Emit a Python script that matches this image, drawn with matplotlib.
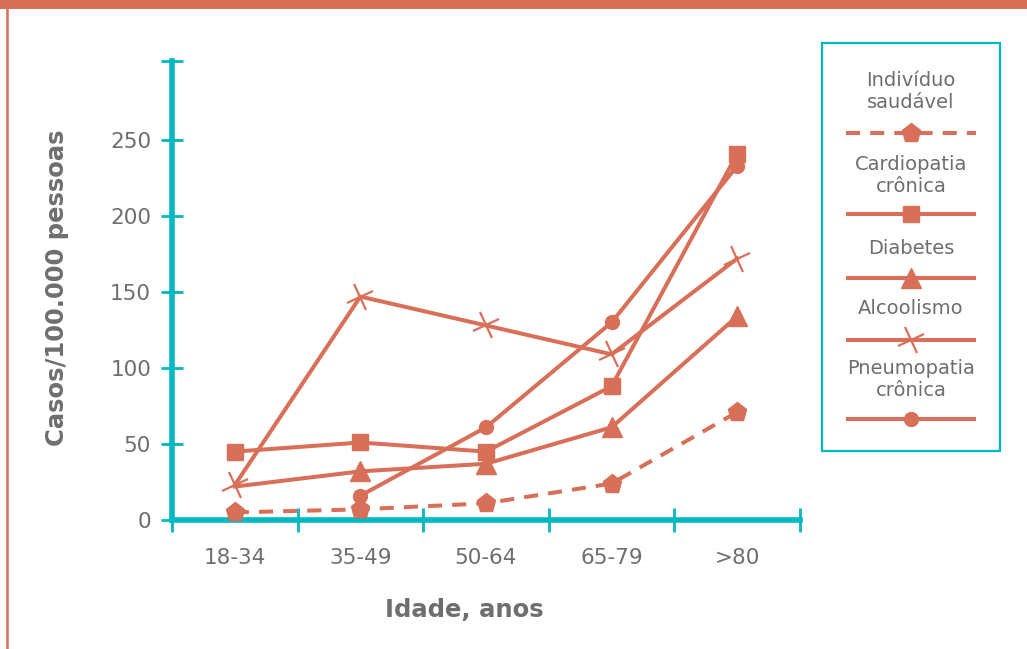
import numpy as np
import matplotlib
matplotlib.use("Agg")
import matplotlib.pyplot as plt
from matplotlib.markers import MarkerStyle
from matplotlib.transforms import Affine2D
from matplotlib.patches import Rectangle

# ---- data ----
categories = ["18-34", "35-49", "50-64", "65-79", ">80"]
saudavel = [5, 7, 11, 24, 71]
cardiopatia = [45, 51, 45, 88, 241]
diabetes = [22, 32, 37, 61, 134]
alcoolismo = [23, 147, 128, 109, 172]
pneumopatia = [np.nan, 16, 61, 130, 233]
yticks = [0, 50, 100, 150, 200, 250]
ytick_labels = ["0", "50", "100", "150", "200", "250"]
legend_labels = ["Indivíduo\nsaudável", "Cardiopatia\ncrônica", "Diabetes",
                 "Alcoolismo", "Pneumopatia\ncrônica"]

ORANGE = "#D86F58"
TEAL = "#00B8C2"
GRAY = "#6D6E70"

W, H = 1027, 649
fig = plt.figure(figsize=(W / 100, H / 100), dpi=100)
plt.rcParams['font.family'] = ['DejaVu Sans']

# overlay in pixel coords (frame + legend)
ov = fig.add_axes([0, 0, 1, 1], zorder=0)
ov.set_xlim(0, W)
ov.set_ylim(H, 0)
ov.axis("off")
ov.add_patch(Rectangle((0, 0), W, 8.5, color=ORANGE, lw=0))
ov.plot([7, 7], [8, H], color=ORANGE, lw=1.8, solid_capstyle="butt")

cross = MarkerStyle("+", transform=Affine2D().rotate_deg(25))

# main axes
x0, x1 = 172, 800
yb, yt = 520, 61
ax = fig.add_axes([x0 / W, (H - yb) / H, (x1 - x0) / W, (yb - yt) / H], zorder=2)
ax.set_facecolor("none")
xs = np.arange(len(categories))
lw = 2.9
ax.plot(xs, saudavel, color=ORANGE, lw=lw, dashes=(3.5, 2.5), marker="p", ms=14, zorder=3)
ax.plot(xs, cardiopatia, color=ORANGE, lw=lw, marker="s", ms=11, zorder=3)
ax.plot(xs, diabetes, color=ORANGE, lw=lw, marker="^", ms=14, markevery=[1, 2, 3, 4], zorder=3)
ax.plot(xs, alcoolismo, color=ORANGE, lw=lw, marker=cross, ms=20, mew=1.6, zorder=3)
ax.plot(xs, pneumopatia, color=ORANGE, lw=lw, marker="o", ms=10, zorder=3)

ax.set_xlim(-0.5, len(categories) - 0.5)
ax.set_ylim(0, 302)
for s in ["top", "right"]:
    ax.spines[s].set_visible(False)
for s in ["left", "bottom"]:
    ax.spines[s].set_color(TEAL)
    ax.spines[s].set_linewidth(4)

ax.set_yticks(yticks + [302])
ax.set_yticklabels(ytick_labels + [""])
ax.tick_params(axis="y", direction="inout", length=16, width=2, color=TEAL,
               pad=7, labelsize=15.5, labelcolor=GRAY)
ax.set_xticks(xs)
ax.set_xticklabels(categories)
ax.set_xticks(np.arange(-0.5, len(categories), 1.0), minor=True)
ax.tick_params(axis="x", which="major", length=0, pad=20, labelsize=15.5, labelcolor=GRAY)
ax.tick_params(axis="x", which="minor", direction="inout", length=17, width=2, color=TEAL)

fig.text(57 / W, (H - 288) / H, "Casos/100.000 pessoas", rotation=90, ha="center",
         va="center", fontsize=17.5, fontweight="bold", color=GRAY)
fig.text(464 / W, (H - 610) / H, "Idade, anos", ha="center", va="center",
         fontsize=17.5, fontweight="bold", color=GRAY)

# legend (drawn manually)
ov.add_patch(Rectangle((821.5, 43), 178.5, 407.5, fill=False, ec=TEAL, lw=1.6))
text_y = [91.5, 175.5, 248, 308, 380]
sample_y = [133, 214, 278, 340, 419]
styles = [dict(dashes=(3.5, 2.5), marker="p", ms=14),
          dict(marker="s", ms=11),
          dict(marker="^", ms=14),
          dict(marker=cross, ms=20, mew=1.6),
          dict(marker="o", ms=10)]
for lab, ty, sy, st in zip(legend_labels, text_y, sample_y, styles):
    ov.text(911, ty, lab, ha="center", va="center", fontsize=14, color=GRAY,
            linespacing=1.2)
    ov.plot([846, 976], [sy, sy], color=ORANGE, lw=lw, solid_capstyle="butt",
            dash_capstyle="butt", **{k: v for k, v in st.items() if k not in ("marker", "ms", "mew")})
    ov.plot([911], [sy], color=ORANGE, ls="none",
            **{k: v for k, v in st.items() if k in ("marker", "ms", "mew")})

fig.savefig("out.png", dpi=100)
